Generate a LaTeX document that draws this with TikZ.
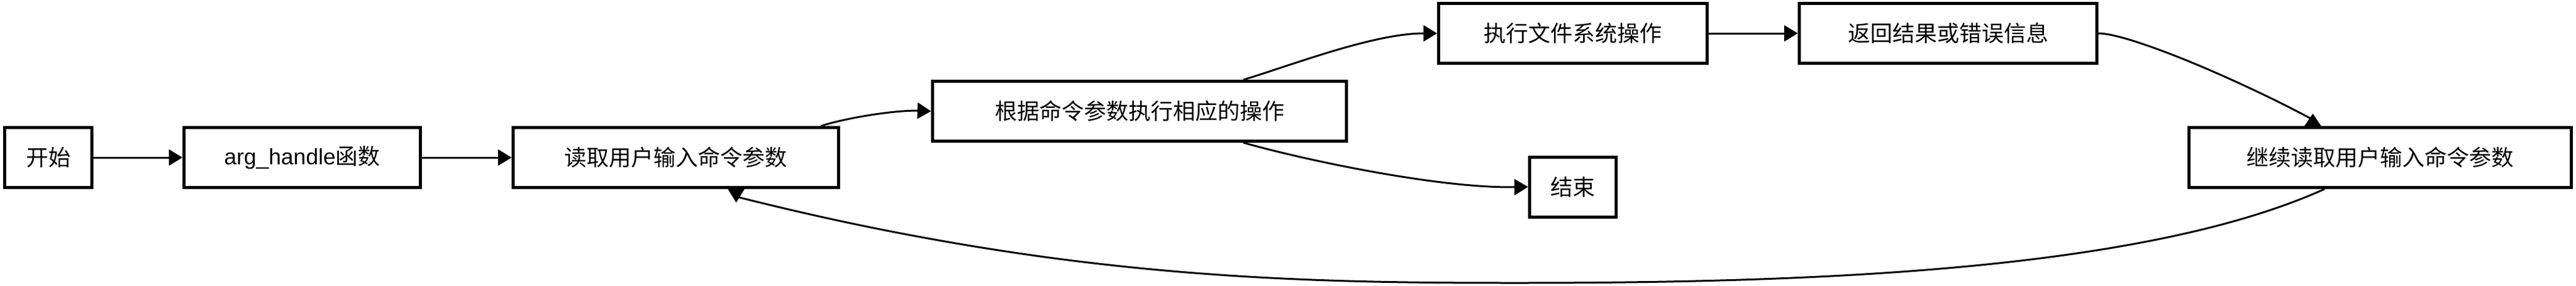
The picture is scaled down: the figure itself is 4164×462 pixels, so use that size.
\documentclass[tikz,border=0pt]{standalone}
\usepackage{fontspec}
\setmainfont{Liberation Sans}
\newfontfamily\cjk{Noto Sans CJK SC}
\newfontfamily\latin{Liberation Sans}
\usetikzlibrary{arrows.meta,calc}
\begin{document}
\begin{tikzpicture}[x=0.5pt,y=-0.5pt,
  box/.style={draw=black, fill=white, line width=2.5pt, inner sep=0pt, outer sep=1.25pt,
    minimum height=48.5pt, font=\fontsize{18pt}{21pt}\selectfont\cjk},
  link/.style={draw=black, line width=1.5pt},
  arr/.style={link, -{Triangle[length=11pt,width=13pt]}},
  tipfill/.style={fill=black}
]
\useasboundingbox (0,0) rectangle (4164,462);

\node[box, minimum width=70.5pt] (start) at (78,255) {开始};
\node[box, minimum width=191pt] (arg) at (488.5,255) {{\latin arg\_handle}函数};
\node[box, minimum width=263pt] (read) at (1092.5,255) {读取用户输入命令参数};
\node[box, minimum width=334.5pt] (act) at (1842,180) {根据命令参数执行相应的操作};
\node[box, minimum width=217pt] (fs) at (2542.5,54) {执行文件系统操作};
\node[box, minimum width=240.5pt] (ret) at (3149,54) {返回结果或错误信息};
\node[box, minimum width=70pt] (stop) at (2542.5,302.5) {结束};
\node[box, minimum width=309pt] (cont) at (3847.5,255) {继续读取用户输入命令参数};

\draw[arr] (start) -- (arg);
\draw[arr] (arg) -- (read);
\draw[arr] (fs) -- (ret);
\draw[arr] ($(read.north)+(234.5,0)$) .. controls (1370,190) and (1450,178) .. (act.west);
\draw[arr] ($(act.north)+(168,0)$) .. controls (2090,105) and (2220,54) .. (fs.west);
\draw[arr] ($(act.south)+(168,0)$) .. controls (2120,262) and (2330,305) .. (stop.west);

\coordinate (t1) at ($(cont.north)+(-112,-12)$);
\draw[link] (ret.east) .. controls (3440,54) and (3610,125) .. (t1);
\fill[tipfill] ($(cont.north)+(-122.5,0)$) -- ($(cont.north)+(-95.5,0)$) -- ($(cont.north)+(-109,-20)$) -- cycle;

\coordinate (t2) at ($(read.south)+(100,13)$);
\draw[link] ($(cont.south)+(-90,0)$) .. controls (3457,442) and (2900,458) .. (2450,458)
  .. controls (2100,458) and (1720,452) .. (t2);
\fill[tipfill] ($(read.south)+(84,0)$) -- ($(read.south)+(111,0)$) -- ($(read.south)+(97.5,22)$) -- cycle;
\end{tikzpicture}
\end{document}
